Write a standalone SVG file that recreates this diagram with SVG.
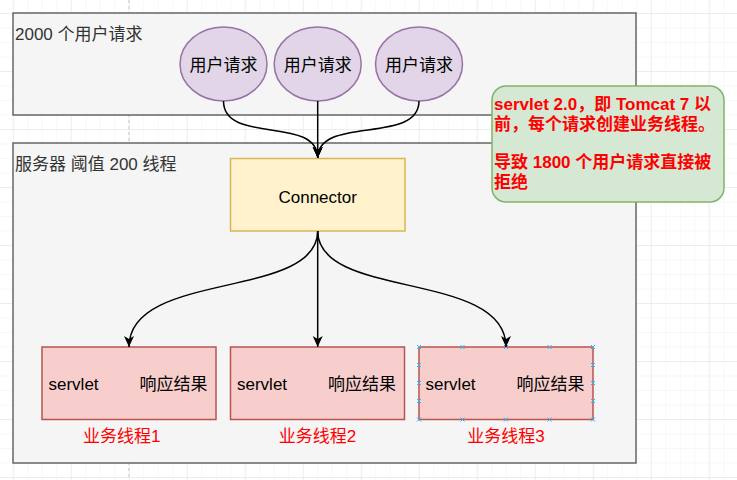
<svg xmlns="http://www.w3.org/2000/svg" width="737" height="480" viewBox="0 0 737 480">
<style>
text{font-family:"Liberation Sans","Noto Sans CJK SC",sans-serif;font-size:17px}
.frame{fill:#f5f5f5;stroke:#666666;stroke-width:1.5}
.ftitle{fill:#333333}
.user{fill:#e1d5e7;stroke:#9673a6;stroke-width:1.5}
.conn{fill:#fff2cc;stroke:#d6b656;stroke-width:1.5}
.box{fill:#f8cecc;stroke:#b85450;stroke-width:1.5}
.lbl{fill:#ff0000}
.edge{fill:none;stroke:#000000;stroke-width:1.5}
.mid{text-anchor:middle}
.h{stroke:#29b6f2;stroke-width:1;fill:none}
</style>
<defs>
<pattern id="minor" patternUnits="userSpaceOnUse" x="12.7" y="13" width="14.5" height="14.5">
<path d="M0 0H14.5M0 0V14.5" fill="none" stroke="#f0f0f0" stroke-width="1"/>
</pattern>
<pattern id="major" patternUnits="userSpaceOnUse" x="12.7" y="13" width="58" height="58">
<path d="M0 0H58M0 0V58" fill="none" stroke="#e3e3e3" stroke-width="1"/>
</pattern>
<marker id="arr" markerUnits="userSpaceOnUse" markerWidth="12" markerHeight="12" viewBox="0 0 12 12" refX="11" refY="6" orient="auto">
<path d="M0,1 L11,6 L0,11 L3,6 z" fill="#000000"/>
</marker>
</defs>
<rect width="737" height="480" fill="#ffffff"/>
<rect width="737" height="480" fill="url(#minor)"/>
<rect width="737" height="480" fill="url(#major)"/>
<line x1="129" y1="0" x2="129" y2="480" stroke="#c8c8c8" stroke-width="1" stroke-dasharray="3,3"/>

<g id="frame-users">
<rect class="frame" x="13" y="13" width="623" height="102"/>
<text class="ftitle" x="15" y="39.5">2000 个用户请求</text>
</g>
<g id="frame-server">
<rect class="frame" x="13" y="143" width="623" height="320"/>
<text class="ftitle" x="15" y="170">服务器 阈值 200 线程</text>
</g>

<g id="user1">
<ellipse class="user" cx="223.5" cy="64" rx="43.5" ry="37"/>
<text class="mid" x="223.5" y="70.5">用户请求</text>
</g>
<g id="user2">
<ellipse class="user" cx="317.7" cy="64" rx="43.5" ry="37"/>
<text class="mid" x="317.7" y="70.5">用户请求</text>
</g>
<g id="user3">
<ellipse class="user" cx="419" cy="64" rx="43.5" ry="37"/>
<text class="mid" x="419" y="70.5">用户请求</text>
</g>

<g id="connector">
<rect class="conn" x="230.5" y="158.5" width="174.5" height="72.5"/>
<text class="mid" x="317.7" y="202.5">Connector</text>
</g>

<g id="thread1">
<rect class="box" x="42" y="347" width="174" height="72.5"/>
<text x="48.5" y="390">servlet</text>
<text x="139.5" y="390">响应结果</text>
<text class="lbl mid" x="121.7" y="441.5">业务线程1</text>
</g>
<g id="thread2">
<rect class="box" x="230.5" y="347" width="174" height="72.5"/>
<text x="237" y="390">servlet</text>
<text x="328" y="390">响应结果</text>
<text class="lbl mid" x="317.5" y="441.5">业务线程2</text>
</g>
<g id="thread3">
<rect class="box" x="419" y="347" width="174" height="72.5"/>
<text x="425.5" y="390">servlet</text>
<text x="516.5" y="390">响应结果</text>
<text class="lbl mid" x="506" y="441.5">业务线程3</text>
<path class="h" d="M417,345l4,4m0,-4l-4,4 M460.5,345l4,4m0,-4l-4,4 M504,345l4,4m0,-4l-4,4 M547.5,345l4,4m0,-4l-4,4 M591,345l4,4m0,-4l-4,4 M417,417.5l4,4m0,-4l-4,4 M460.5,417.5l4,4m0,-4l-4,4 M504,417.5l4,4m0,-4l-4,4 M547.5,417.5l4,4m0,-4l-4,4 M591,417.5l4,4m0,-4l-4,4 M417,363l4,4m0,-4l-4,4 M417,381l4,4m0,-4l-4,4 M417,399l4,4m0,-4l-4,4 M591,363l4,4m0,-4l-4,4 M591,381l4,4m0,-4l-4,4 M591,399l4,4m0,-4l-4,4"/>
</g>

<g id="note">
<rect x="492" y="86" width="232" height="116" rx="14" ry="14" fill="#d5e8d4" stroke="#82b366" stroke-width="1.5"/>
<text class="lbl" x="494" y="110" font-weight="bold">servlet 2.0，即 Tomcat 7 以</text>
<text class="lbl" x="494" y="129.5" font-weight="bold">前，每个请求创建业务线程。</text>
<text class="lbl" x="494" y="168.3" font-weight="bold">导致 1800 个用户请求直接被</text>
<text class="lbl" x="494" y="187.7" font-weight="bold">拒绝</text>
</g>

<g id="connectors">
<path class="edge" marker-end="url(#arr)" d="M223.5,101 C223.5,145 317.7,115 317.7,158"/>
<path class="edge" marker-end="url(#arr)" d="M317.7,101 L317.7,158"/>
<path class="edge" marker-end="url(#arr)" d="M419,101 C419,145 317.7,115 317.7,158"/>
<path class="edge" marker-end="url(#arr)" d="M317.7,231 C317.7,300 129,270 129,347"/>
<path class="edge" marker-end="url(#arr)" d="M317.7,231 L317.7,347"/>
<path class="edge" marker-end="url(#arr)" d="M317.7,231 C317.7,300 506,270 506,347"/>
</g>
</svg>
